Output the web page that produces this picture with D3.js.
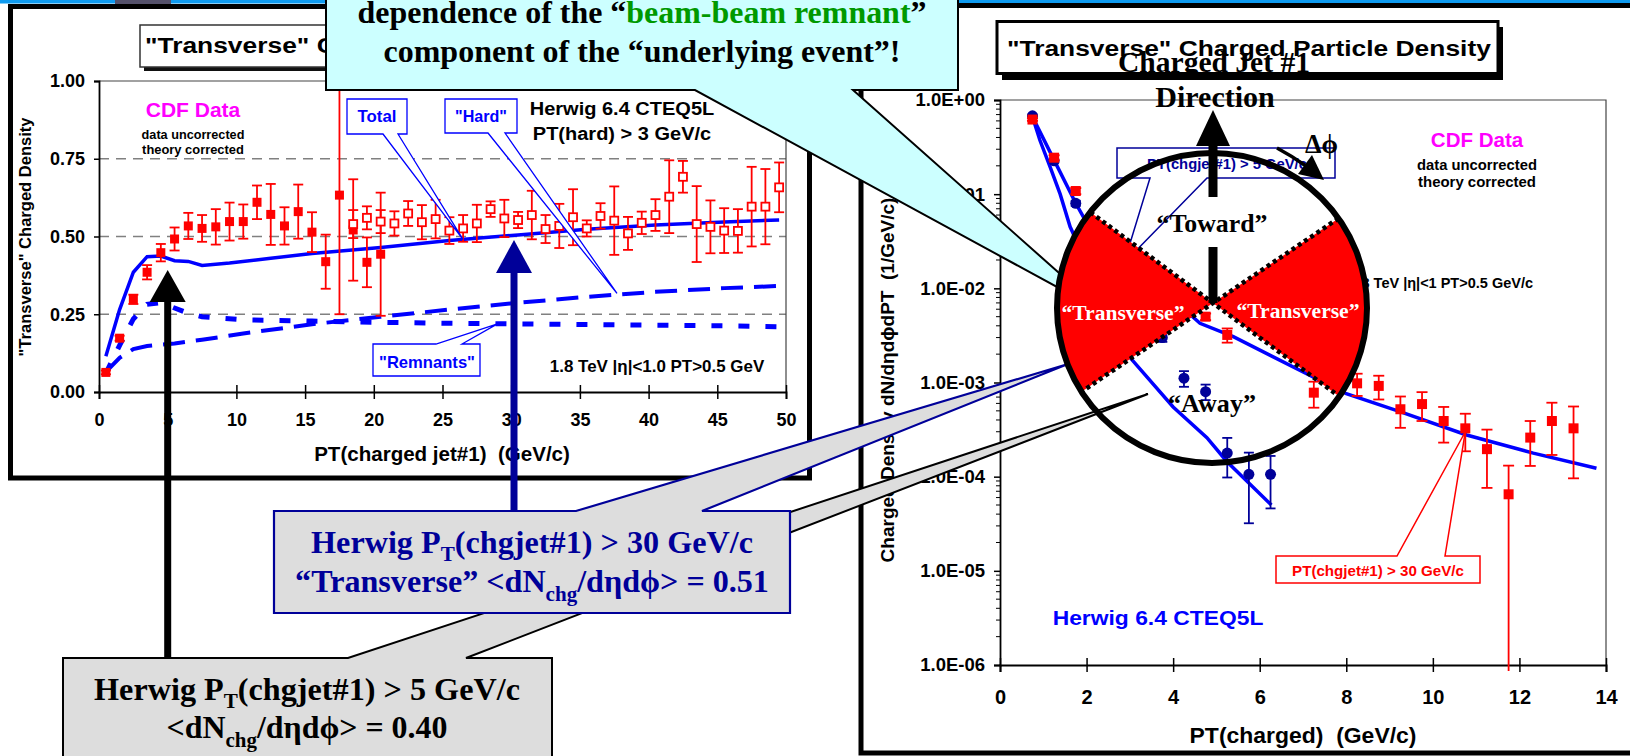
<!DOCTYPE html>
<html>
<head>
<meta charset="utf-8">
<script src="https://cdn.jsdelivr.net/npm/d3@7"></script>
<style>
  html, body { margin: 0; padding: 0; background: #fff; overflow: hidden; }
  svg { display: block; }
</style>
</head>
<body>
<svg id="chart" width="1630" height="756"></svg>
<script>
// ---------- Left chart: "Transverse" charged density vs PT(charged jet#1) ----------
const jetPtFilled = [0.5, 1.5, 2.5, 3.5, 4.5, 5.5, 6.5, 7.5, 8.5, 9.5, 10.5, 11.5, 12.5, 13.5, 14.5, 15.5, 16.5, 17.5, 18.5, 19.5, 20.5];
const densFilled  = [0.063, 0.173, 0.298, 0.385, 0.448, 0.492, 0.534, 0.526, 0.531, 0.548, 0.548, 0.610, 0.571, 0.534, 0.580, 0.514, 0.419, 0.633, 0.521, 0.417, 0.443];
const errFilled   = [0.006, 0.008, 0.015, 0.023, 0.028, 0.037, 0.042, 0.043, 0.057, 0.061, 0.055, 0.054, 0.098, 0.060, 0.087, 0.064, 0.087, 0.383, 0.163, 0.080, 0.198];

const jetPtOpen = [18.5, 19.5, 20.5, 21.5, 22.5, 23.5, 24.5, 25.5, 26.5, 27.5, 28.5, 29.5, 30.5, 31.5, 32.5, 33.5,
                   34.5, 35.5, 36.5, 37.5, 38.5, 39.5, 40.5, 41.5, 42.5, 43.5, 44.5, 45.5, 46.5, 47.5, 48.5, 49.5];
const densOpen  = [0.540, 0.560, 0.548, 0.542, 0.574, 0.546, 0.556, 0.519, 0.526, 0.542, 0.588, 0.558, 0.553, 0.569, 0.524, 0.534,
                   0.562, 0.526, 0.566, 0.551, 0.510, 0.544, 0.569, 0.628, 0.692, 0.540, 0.531, 0.519, 0.518, 0.596, 0.596, 0.658];
const errOpen   = [0.045, 0.037, 0.037, 0.039, 0.040, 0.055, 0.062, 0.043, 0.043, 0.060, 0.025, 0.060, 0.026, 0.078, 0.045, 0.071,
                   0.090, 0.026, 0.041, 0.110, 0.053, 0.036, 0.051, 0.117, 0.051, 0.122, 0.085, 0.072, 0.070, 0.128, 0.121, 0.080];

// Herwig 6.4 CTEQ5L components
const totalPt   = [0.5, 1.5, 2.5, 3.5, 4.5, 5.5, 6.5, 7.5, 9.5, 12.5, 15.5, 20.5, 25.5, 30.5, 35.5, 40.5, 45.5, 49.5];
const totalDens = [0.115, 0.265, 0.385, 0.435, 0.437, 0.422, 0.420, 0.407, 0.415, 0.430, 0.445, 0.465, 0.487, 0.505, 0.523, 0.537, 0.547, 0.553];
const hardPt    = [0.5, 1.5, 2.5, 3.5, 4.5, 5.5, 7.5, 10.5, 15.5, 20.5, 25.5, 30.5, 35.5, 40.5, 45.5, 49.5];
const hardDens  = [0.065, 0.110, 0.138, 0.148, 0.152, 0.156, 0.168, 0.188, 0.218, 0.242, 0.265, 0.287, 0.306, 0.322, 0.334, 0.341];
const remnPt    = [0.5, 1.5, 2.5, 3.5, 4.5, 5.5, 6.5, 7.5, 10.5, 15.5, 20.5, 25.5, 30.5, 35.5, 40.5, 45.5, 49.5];
const remnDens  = [0.060, 0.150, 0.235, 0.282, 0.287, 0.270, 0.253, 0.242, 0.232, 0.228, 0.224, 0.221, 0.219, 0.217, 0.215, 0.213, 0.210];

const xTicksLeft = [0, 5, 10, 15, 20, 25, 30, 35, 40, 45, 50];
const yTicksLeft = [0, 0.25, 0.5, 0.75, 1];
const yTickLabelsLeft = ['0.00', '0.25', '0.50', '0.75', '1.00'];

// ---------- Right chart: "Transverse" PT distribution ----------
const ptHigh   = [0.75, 1.25, 1.75, 4.75, 5.25, 7.25, 8.25, 8.75, 9.25, 9.75, 10.25, 10.75, 11.25, 11.75, 12.25, 12.75, 13.25];
const densHigh = [0.62, 0.244, 0.108, 5.0e-3, 3.2e-3, 7.8e-4, 9.8e-4, 9.2e-4, 5.2e-4, 5.9e-4, 3.9e-4, 3.26e-4, 1.96e-4, 6.5e-5, 2.6e-4, 3.9e-4, 3.26e-4];
const errHigh  = [0.02, 0.015, 0.008, 4e-4, 5.5e-4, 2.4e-4, 2.6e-4, 2.6e-4, 1.9e-4, 2.0e-4, 1.6e-4, 1.4e-4, 1.2e-4, 6.6e-5, 1.3e-4, 2.2e-4, 2.3e-4];

const ptLow   = [0.75, 1.25, 1.75, 3.75, 4.25, 4.75, 5.25, 5.75, 6.25];
const densLow = [0.68, 0.226, 0.08, 3.0e-3, 1.11e-3, 8.0e-4, 1.78e-4, 1.06e-4, 1.06e-4];
const errLow  = [0.02, 0.01, 0.005, 3e-4, 2.1e-4, 1.5e-4, 8e-5, 7.4e-5, 6e-5];

const curveHighPt   = [0.75, 1.25, 1.75, 2.0, 4.62, 5.39, 8.0, 9.24, 10.78, 12.32, 13.78];
const curveHighDens = [0.665, 0.23, 0.08, 0.05, 4.25e-3, 3.07e-3, 7.6e-4, 4.9e-4, 2.77e-4, 1.78e-4, 1.23e-4];
const curveLowPt    = [0.75, 0.92, 1.155, 1.39, 1.62, 3.0, 4.0, 4.78, 5.24, 6.27];
const curveLowDens  = [0.665, 0.376, 0.196, 0.1, 0.045, 1.85e-3, 5.5e-4, 2.6e-4, 1.45e-4, 5e-5];

const xTicksRight = [0, 2, 4, 6, 8, 10, 12, 14];
const yTicksRight = [1, 1e-1, 1e-2, 1e-3, 1e-4, 1e-5, 1e-6];
const yTickLabelsRight = ['1.0E+00', '1.0E-01', '1.0E-02', '1.0E-03', '1.0E-04', '1.0E-05', '1.0E-06'];

// ---------- styling ----------
const SANS = "'Liberation Sans', Arial, Helvetica, sans-serif";
const SERIF = "'Liberation Serif', 'Times New Roman', Times, serif";
const RED = '#ff0000', BLUE = '#0000ff', NAVY = '#000099', MAGENTA = '#ff00ff';
const GREEN = '#009900', GRAYFILL = '#dddddd', CYAN = '#ccffff';

const svg = d3.select('#chart');

// text helper: optional rotation and horizontal fit to a target width
function label(parent, x, y, content, o = {}) {
  const g = parent.append('g')
    .attr('transform', `translate(${x},${y})` + (o.rotate ? ` rotate(${o.rotate})` : ''));
  const t = g.append('text')
    .attr('text-anchor', o.anchor || 'middle')
    .attr('font-family', o.family || SANS)
    .attr('font-weight', o.weight || 'bold')
    .attr('font-size', o.size || 14)
    .attr('fill', o.fill || '#000')
    .style('white-space', 'pre');
  const parts = typeof content === 'string' ? [{ t: content }] : content;
  parts.forEach(p => {
    const s = t.append('tspan').text(p.t);
    if (p.dy) s.attr('dy', p.dy);
    if (p.size) s.attr('font-size', p.size);
    if (p.fill) s.attr('fill', p.fill);
  });
  if (o.width) {
    const w = t.node().getBBox().width;
    if (w > 0) t.attr('transform', `scale(${o.width / w},1)`);
  }
  return t;
}

function calloutPath(parent, d, fill, stroke, sw) {
  return parent.append('path').attr('d', d).attr('fill', fill)
    .attr('stroke', stroke).attr('stroke-width', sw).attr('stroke-linejoin', 'miter');
}

// ---------- slide header ----------
svg.append('rect').attr('x', 0).attr('y', 0).attr('width', 1630).attr('height', 3.5).attr('fill', '#0f9bf0');
svg.append('rect').attr('x', 115).attr('y', 0).attr('width', 56).attr('height', 5).attr('fill', '#54506a');

// ---------- left panel ----------
const left = svg.append('g');
left.append('rect').attr('x', 10.5).attr('y', 6.5).attr('width', 799).attr('height', 471.5)
  .attr('fill', '#fff').attr('stroke', '#000').attr('stroke-width', 5);

// title box with shadow
left.append('rect').attr('x', 144).attr('y', 29).attr('width', 501).attr('height', 42).attr('fill', '#111');
left.append('rect').attr('x', 140).attr('y', 25).attr('width', 501).attr('height', 42)
  .attr('fill', '#fff').attr('stroke', '#333').attr('stroke-width', 1.5);
label(left, 145, 53, '"Transverse" Charged Particle Density', { anchor: 'start', size: 22, width: 485 });

const xL = d3.scaleLinear().domain([0, 50]).range([99, 786]);
const yL = d3.scaleLinear().domain([0, 1]).range([392, 81]);

// gridlines
left.selectAll('line.grid').data([0.25, 0.5, 0.75]).join('line')
  .attr('x1', xL(0)).attr('x2', xL(50)).attr('y1', d => yL(d)).attr('y2', d => yL(d))
  .attr('stroke', '#808080').attr('stroke-width', 1.5).attr('stroke-dasharray', '10,7');
// plot frame (top / right)
left.append('path').attr('d', `M${xL(0)},${yL(1)}H${xL(50)}V${yL(0)}`)
  .attr('fill', 'none').attr('stroke', '#444').attr('stroke-width', 1.2);

// axes
left.append('g').attr('transform', `translate(0,${yL(0)})`)
  .call(d3.axisBottom(xL).tickValues(xTicksLeft).tickFormat(d3.format('d')).tickSizeOuter(0).tickSize(7))
  .call(g => {
    g.select('.domain').attr('stroke', '#000').attr('stroke-width', 1.8);
    g.selectAll('.tick line').attr('y1', -7).attr('y2', 7).attr('stroke', '#000').attr('stroke-width', 1.5);
    g.selectAll('.tick text').attr('y', 28).attr('dy', '0.35em').attr('fill', '#000')
      .attr('font-family', SANS).attr('font-weight', 'bold').attr('font-size', 18);
  });
left.append('g').attr('transform', `translate(${xL(0)},0)`)
  .call(d3.axisLeft(yL).tickValues(yTicksLeft).tickFormat((d, i) => yTickLabelsLeft[i]).tickSizeOuter(0).tickSize(5).tickPadding(9))
  .call(g => {
    g.select('.domain').attr('stroke', '#000').attr('stroke-width', 1.8);
    g.selectAll('.tick line').attr('stroke', '#000').attr('stroke-width', 1.5);
    g.selectAll('.tick text').attr('fill', '#000')
      .attr('font-family', SANS).attr('font-weight', 'bold').attr('font-size', 18);
  });

label(left, 31, 237, '"Transverse" Charged Density', { rotate: -90, size: 16.5, width: 240 });
label(left, 442, 461, 'PT(charged jet#1)  (GeV/c)', { size: 20, width: 256 });

// Herwig curves
const lineL = d3.line().x(d => xL(d[0])).y(d => yL(d[1]));
left.append('path').datum(d3.zip(remnPt, remnDens)).attr('d', lineL)
  .attr('fill', 'none').attr('stroke', BLUE).attr('stroke-width', 5).attr('stroke-dasharray', '11,16');
left.append('path').datum(d3.zip(hardPt, hardDens)).attr('d', lineL)
  .attr('fill', 'none').attr('stroke', BLUE).attr('stroke-width', 4).attr('stroke-dasharray', '22,11');
left.append('path').datum(d3.zip(totalPt, totalDens)).attr('d', lineL)
  .attr('fill', 'none').attr('stroke', BLUE).attr('stroke-width', 3.5);

// CDF data with error bars
function errBarsLin(g, xs, vs, es, xS, yS, color, cap, sw) {
  const d = d3.zip(xs, vs, es);
  const eg = g.append('g').attr('stroke', color).attr('stroke-width', sw);
  eg.selectAll('line.v').data(d).join('line')
    .attr('x1', p => xS(p[0])).attr('x2', p => xS(p[0]))
    .attr('y1', p => yS(p[1] - p[2])).attr('y2', p => yS(p[1] + p[2]));
  eg.selectAll('line.t').data(d).join('line')
    .attr('x1', p => xS(p[0]) - cap / 2).attr('x2', p => xS(p[0]) + cap / 2)
    .attr('y1', p => yS(p[1] + p[2])).attr('y2', p => yS(p[1] + p[2]));
  eg.selectAll('line.b').data(d).join('line')
    .attr('x1', p => xS(p[0]) - cap / 2).attr('x2', p => xS(p[0]) + cap / 2)
    .attr('y1', p => yS(p[1] - p[2])).attr('y2', p => yS(p[1] - p[2]));
}
errBarsLin(left, jetPtFilled, densFilled, errFilled, xL, yL, RED, 10, 1.8);
errBarsLin(left, jetPtOpen, densOpen, errOpen, xL, yL, RED, 10, 1.8);
left.selectAll('rect.filled').data(d3.zip(jetPtFilled, densFilled)).join('rect')
  .attr('x', d => xL(d[0]) - 4.5).attr('y', d => yL(d[1]) - 4.5).attr('width', 9).attr('height', 9).attr('fill', RED);
left.selectAll('rect.open').data(d3.zip(jetPtOpen, densOpen)).join('rect')
  .attr('x', d => xL(d[0]) - 4).attr('y', d => yL(d[1]) - 4).attr('width', 8).attr('height', 8)
  .attr('fill', '#fff').attr('stroke', RED).attr('stroke-width', 1.8);

// legend texts
label(left, 193, 117, 'CDF Data', { size: 21, fill: MAGENTA, width: 95 });
label(left, 193, 139, 'data uncorrected', { size: 13, width: 103 });
label(left, 193, 154, 'theory corrected', { size: 13, width: 102 });
label(left, 622, 115, 'Herwig 6.4 CTEQ5L', { size: 19, width: 185 });
label(left, 622, 140, 'PT(hard) > 3 GeV/c', { size: 19, width: 179 });
label(left, 657, 372, '1.8 TeV |η|<1.0 PT>0.5 GeV', { size: 16, width: 215 });

// component callouts
calloutPath(left, `M347,99H407V134H398L${xL(26.5)},${yL(0.49)}L383,134H347Z`, '#fff', BLUE, 1.3);
label(left, 377, 122, 'Total', { size: 16, fill: BLUE, width: 39 });
calloutPath(left, `M445,99H517V133H505L${xL(37.7)},${yL(0.317)}L488,133H445Z`, '#fff', BLUE, 1.3);
label(left, 481, 122, '"Hard"', { size: 16, fill: BLUE, width: 52 });
calloutPath(left, `M373,344H436L${xL(29)},${yL(0.219)}L462,344H480V376H373Z`, '#fff', BLUE, 1.3);
label(left, 427, 368, '"Remnants"', { size: 16, fill: BLUE, width: 96 });

// ---------- right panel ----------
const right = svg.append('g');
right.append('rect').attr('x', 861).attr('y', 5.5).attr('width', 800).attr('height', 747.5)
  .attr('fill', '#fff').attr('stroke', '#000').attr('stroke-width', 5);

right.append('rect').attr('x', 1002).attr('y', 27).attr('width', 501).attr('height', 53).attr('fill', '#000');
right.append('rect').attr('x', 997).attr('y', 21.5).attr('width', 501).attr('height', 52)
  .attr('fill', '#fff').attr('stroke', '#000').attr('stroke-width', 3);
label(right, 1007, 56, '"Transverse" Charged Particle Density', { anchor: 'start', size: 22, width: 485 });

const xR = d3.scaleLinear().domain([0, 14]).range([1000, 1606]);
const yR = d3.scaleLog().domain([1e-6, 1]).range([665, 100]);

right.append('path').attr('d', `M${xR(0)},${yR(1)}H${xR(14)}V${yR(1e-6)}`)
  .attr('fill', 'none').attr('stroke', '#444').attr('stroke-width', 1.2);

// minor log ticks
const minor = [];
yTicksRight.slice(1).forEach(dec => { for (let k = 2; k <= 9; k++) minor.push(dec * k); });
right.selectAll('line.minor').data(minor).join('line')
  .attr('x1', xR(0) - 4).attr('x2', xR(0)).attr('y1', d => yR(d)).attr('y2', d => yR(d))
  .attr('stroke', '#000').attr('stroke-width', 1);

right.append('g').attr('transform', `translate(0,${yR(1e-6)})`)
  .call(d3.axisBottom(xR).tickValues(xTicksRight).tickFormat(d3.format('d')).tickSizeOuter(0).tickSize(7))
  .call(g => {
    g.select('.domain').attr('stroke', '#000').attr('stroke-width', 2);
    g.selectAll('.tick line').attr('y1', -7).attr('y2', 7).attr('stroke', '#000').attr('stroke-width', 1.5);
    g.selectAll('.tick text').attr('y', 32).attr('dy', '0.35em').attr('fill', '#000')
      .attr('font-family', SANS).attr('font-weight', 'bold').attr('font-size', 20);
  });
right.append('g').attr('transform', `translate(${xR(0)},0)`)
  .call(d3.axisLeft(yR).tickValues(yTicksRight).tickFormat((d, i) => yTickLabelsRight[i]).tickSizeOuter(0).tickSize(6).tickPadding(9))
  .call(g => {
    g.select('.domain').attr('stroke', '#000').attr('stroke-width', 1.8);
    g.selectAll('.tick line').attr('stroke', '#000').attr('stroke-width', 1.5);
    g.selectAll('.tick text').attr('fill', '#000')
      .attr('font-family', SANS).attr('font-weight', 'bold').attr('font-size', 18.5);
  });

label(right, 894, 380, 'Charged Density dN/dηdϕdPT  (1/GeV/c)', { rotate: -90, size: 19, width: 365 });
label(right, 1303, 743, 'PT(charged)  (GeV/c)', { size: 22, width: 227 });

// Herwig curves
const lineR = d3.line().x(d => xR(d[0])).y(d => yR(d[1]));
right.append('path').datum(d3.zip(curveLowPt, curveLowDens)).attr('d', lineR)
  .attr('fill', 'none').attr('stroke', BLUE).attr('stroke-width', 3.5);
right.append('path').datum(d3.zip(curveHighPt, curveHighDens)).attr('d', lineR)
  .attr('fill', 'none').attr('stroke', BLUE).attr('stroke-width', 3.5);

// error bars on the log axis (lower end clamped below the axis when non-positive)
function errBarsLog(g, xs, vs, es, color, cap, sw) {
  const d = d3.zip(xs, vs, es);
  const lo = p => (p[1] - p[2] > 1e-6 ? yR(p[1] - p[2]) : yR(1e-6) + 6);
  const eg = g.append('g').attr('stroke', color).attr('stroke-width', sw);
  eg.selectAll('line.v').data(d).join('line')
    .attr('x1', p => xR(p[0])).attr('x2', p => xR(p[0])).attr('y1', lo).attr('y2', p => yR(p[1] + p[2]));
  eg.selectAll('line.t').data(d).join('line')
    .attr('x1', p => xR(p[0]) - cap / 2).attr('x2', p => xR(p[0]) + cap / 2)
    .attr('y1', p => yR(p[1] + p[2])).attr('y2', p => yR(p[1] + p[2]));
  eg.selectAll('line.b').data(d.filter(p => p[1] - p[2] > 1e-6)).join('line')
    .attr('x1', p => xR(p[0]) - cap / 2).attr('x2', p => xR(p[0]) + cap / 2)
    .attr('y1', p => yR(p[1] - p[2])).attr('y2', p => yR(p[1] - p[2]));
}
errBarsLog(right, ptLow, densLow, errLow, NAVY, 10, 1.8);
right.selectAll('circle.low').data(d3.zip(ptLow, densLow)).join('circle')
  .attr('cx', d => xR(d[0])).attr('cy', d => yR(d[1])).attr('r', 5.5).attr('fill', NAVY);
errBarsLog(right, ptHigh, densHigh, errHigh, RED, 11, 1.8);
right.selectAll('rect.high').data(d3.zip(ptHigh, densHigh)).join('rect')
  .attr('x', d => xR(d[0]) - 5).attr('y', d => yR(d[1]) - 5).attr('width', 10).attr('height', 10).attr('fill', RED);

label(right, 1477, 147, 'CDF Data', { size: 20.5, fill: MAGENTA, width: 93 });
label(right, 1477, 170, 'data uncorrected', { size: 14.5, width: 120 });
label(right, 1477, 187, 'theory corrected', { size: 14.5, width: 118 });
label(right, 1533, 288, '1.8 TeV |η|<1 PT>0.5 GeV/c', { anchor: 'end', size: 14.5 });
label(right, 1158, 625, 'Herwig 6.4 CTEQ5L', { size: 21, fill: BLUE, width: 211 });

// selection callouts
calloutPath(right, `M1276,556H1397L${xR(10.75)},${yR(3.0e-4)}L1445,556H1480V583H1276Z`, '#fff', RED, 1.5);
label(right, 1378, 576, 'PT(chgjet#1) > 30 GeV/c', { size: 15, fill: RED, width: 172 });
calloutPath(right, 'M1117,148H1335V178H1207L1124,263L1150,178H1117Z', '#fff', NAVY, 1.5);
label(right, 1227, 169, 'PT(chgjet#1) > 5 GeV/c', { size: 14.5, fill: NAVY, width: 160 });

// ---------- slide annotations ----------
const notes = svg.append('g');

// cyan callout with pointer into the circle
calloutPath(notes, 'M326,-5H958V90H853L1103,312L695,90H326Z', CYAN, '#000', 2);
label(notes, 642, 23, [{ t: 'dependence of the “' }, { t: 'beam-beam remnant', fill: GREEN }, { t: '”' }],
  { family: SERIF, size: 32, width: 569 });
label(notes, 642, 62, 'component of the “underlying event”!', { family: SERIF, size: 32, width: 517 });

// grey result boxes with pointers
calloutPath(notes, 'M63,658H348L1148,394L466,658H552V772H63Z', GRAYFILL, '#000', 2);
label(notes, 307, 700, [{ t: 'Herwig P' }, { t: 'T', dy: 8, size: 21 }, { t: '(chgjet#1) > 5 GeV/c', dy: -8 }],
  { family: SERIF, size: 32, width: 426 });
label(notes, 307, 738, [{ t: '<dN' }, { t: 'chg', dy: 9, size: 21 }, { t: '/dηdϕ> = 0.40', dy: -9 }],
  { family: SERIF, size: 32, width: 281 });

calloutPath(notes, 'M274,511H576L1068,364L702,511H790V613H274Z', GRAYFILL, NAVY, 2.2);
label(notes, 532, 553, [{ t: 'Herwig P' }, { t: 'T', dy: 8, size: 21 }, { t: '(chgjet#1) > 30 GeV/c', dy: -8 }],
  { family: SERIF, size: 32, fill: NAVY, width: 442 });
label(notes, 532, 592, [{ t: '“Transverse” <dN' }, { t: 'chg', dy: 9, size: 21 }, { t: '/dηdϕ> = 0.51', dy: -9 }],
  { family: SERIF, size: 32, fill: NAVY, width: 474 });

// arrows onto the left plot
function upArrow(g, x, yTip, yBase, yEnd, color) {
  g.append('rect').attr('x', x - 3.5).attr('y', yBase - 1).attr('width', 7).attr('height', yEnd - yBase + 1).attr('fill', color);
  g.append('path').attr('d', `M${x},${yTip}L${x - 18},${yBase}L${x + 18},${yBase}Z`).attr('fill', color);
}
upArrow(notes, xL(5), 270, 302, 658, '#000');
upArrow(notes, 514, 240, 273, 511, NAVY);

// ---------- "Toward / Transverse / Away" circle ----------
const ring = svg.append('g');
const C = { x: 1212, y: 308, r: 155 };
const P = { x: 1213, y: 303 };
const aA = 36.5 * Math.PI / 180, aB = 34 * Math.PI / 180, L = 400;
svg.append('defs').append('clipPath').attr('id', 'ringClip')
  .append('circle').attr('cx', C.x).attr('cy', C.y).attr('r', C.r);
const wedges = ring.append('g').attr('clip-path', 'url(#ringClip)');
const pt = (a, s, t) => [P.x + s * L * Math.cos(a), P.y + t * L * Math.sin(a)];
wedges.append('path').attr('d', `M${P.x},${P.y}L${pt(aA, -1, -1)}L${pt(aB, -1, 1)}Z`).attr('fill', RED);
wedges.append('path').attr('d', `M${P.x},${P.y}L${pt(aB, 1, -1)}L${pt(aA, 1, 1)}Z`).attr('fill', RED);
wedges.append('path').attr('d', `M${pt(aA, -1, -1)}L${pt(aA, 1, 1)}M${pt(aB, -1, 1)}L${pt(aB, 1, -1)}`)
  .attr('stroke', '#000').attr('stroke-width', 4.5).attr('stroke-dasharray', '4,3.5');
ring.append('circle').attr('cx', C.x).attr('cy', C.y).attr('r', C.r)
  .attr('fill', 'none').attr('stroke', '#000').attr('stroke-width', 6);

label(ring, 1123, 320, '“Transverse”', { family: SERIF, size: 21, fill: '#fff', width: 123 });
label(ring, 1298, 318, '“Transverse”', { family: SERIF, size: 21, fill: '#fff', width: 123 });
label(ring, 1212, 412, '“Away”', { family: SERIF, size: 25, width: 88 });
label(ring, 1212, 232, '“Toward”', { family: SERIF, size: 25, width: 111 });

// leading-jet direction arrow
ring.append('rect').attr('x', P.x - 4.5).attr('y', 247).attr('width', 9).attr('height', P.y - 247).attr('fill', '#000');
ring.append('rect').attr('x', P.x - 4.5).attr('y', 144).attr('width', 9).attr('height', 197 - 144).attr('fill', '#000');
ring.append('path').attr('d', `M${P.x},110L${P.x - 17},146L${P.x + 17},146Z`).attr('fill', '#000');
label(ring, 1214, 72, 'Charged Jet #1', { family: SERIF, size: 30, width: 192 });
label(ring, 1215, 107, 'Direction', { family: SERIF, size: 30, width: 120 });

// azimuthal angle marker
label(ring, 1305, 153, 'Δϕ', { family: SERIF, size: 27, anchor: 'start', width: 33 });
ring.append('path').attr('d', 'M1277,148Q1292,156 1306,166').attr('fill', 'none').attr('stroke', '#000').attr('stroke-width', 3.5);
ring.append('path').attr('d', 'M1324,180L1298,174L1312,155Z').attr('fill', '#000');
</script>
</body>
</html>
